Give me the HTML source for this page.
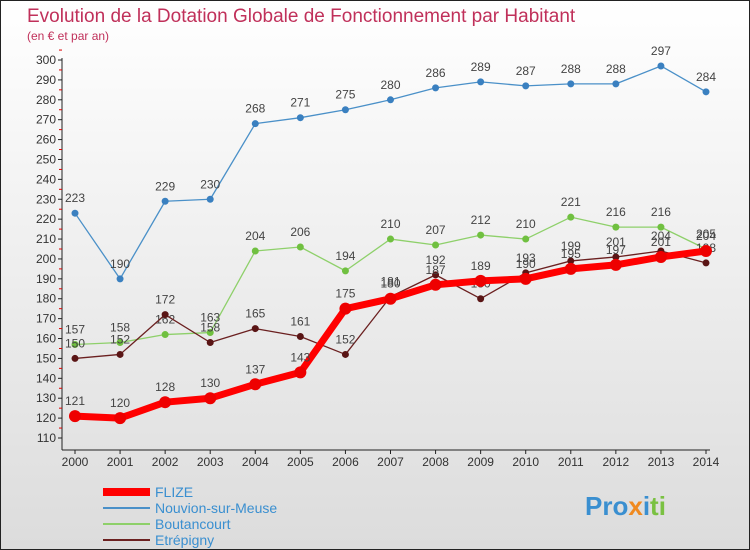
<!DOCTYPE html>
<html><head><meta charset="utf-8"><style>
body{margin:0;width:750px;height:550px;overflow:hidden;font-family:"Liberation Sans",sans-serif}
svg{display:block}
</style></head><body>
<svg id="c" width="750" height="550" xmlns="http://www.w3.org/2000/svg">
<defs><linearGradient id="bg" x1="0" y1="0" x2="0" y2="1"><stop offset="0" stop-color="#ffffff"/><stop offset="1" stop-color="#dcdcdc"/></linearGradient></defs>
<rect x="0.5" y="0.5" width="749" height="549" fill="url(#bg)" stroke="#222"/>
<text x="27" y="22" font-size="19" fill="#c0305a">Evolution de la Dotation Globale de Fonctionnement par Habitant</text>
<text x="27" y="40" font-size="12" fill="#c0305a">(en € et par an)</text>
<g id="axes"></g><g id="series"></g><g id="legend"></g>
<text x="585" y="515" font-size="26" font-weight="bold" fill="#3a8fd0">Pro<tspan fill="#f08a20">x</tspan>i<tspan fill="#7ac142">ti</tspan></text>
</svg>
<script>
const years=[2000,2001,2002,2003,2004,2005,2006,2007,2008,2009,2010,2011,2012,2013,2014];
const flize=[121,120,128,130,137,143,175,180,187,189,190,195,197,201,204];
const nouvion=[223,190,229,230,268,271,275,280,286,289,287,288,288,297,284];
const boutancourt=[157,158,162,163,204,206,194,210,207,212,210,221,216,216,205];
const etrepigny=[150,152,172,158,165,161,152,181,192,180,193,199,201,204,198];
const yTicks=[110,120,130,140,150,160,170,180,190,200,210,220,230,240,250,260,270,280,290,300];
const NS="http://www.w3.org/2000/svg";
const X=i=>75+i*(706-75)/(years.length-1);
const Y=v=>438-(v-110)*(438-60)/190;
function mk(t,a,p){const e=document.createElementNS(NS,t);for(const k in a)e.setAttribute(k,a[k]);p.appendChild(e);return e;}
const ax=document.getElementById('axes');
let l=mk('line',{x1:62,y1:58,x2:62,y2:450,stroke:'#222'},ax);


l=mk('line',{x1:62,y1:450,x2:710,y2:450,stroke:'#222'},ax);


yTicks.forEach(v=>{
  mk('line',{x1:58,y1:Y(v),x2:62,y2:Y(v),stroke:'#222'},ax);
  mk('line',{x1:59,y1:Y(v+5),x2:62,y2:Y(v+5),stroke:'#d00'},ax);
  const t=mk('text',{x:56,y:Y(v)+4,'font-size':12,'text-anchor':'end',fill:'#333'},ax);
  t.textContent=v;
  
  
});
years.forEach((yr,i)=>{
  mk('line',{x1:X(i),y1:450,x2:X(i),y2:454,stroke:'#222'},ax);
  const t=mk('text',{x:X(i),y:466,'font-size':12,'text-anchor':'middle',fill:'#333'},ax);
  t.textContent=yr;
  
  
});
const sg=document.getElementById('series');
const series=[
 {name:'nouvion',data:nouvion,color:'#4a90c8',w:1.3,r:3.5,dot:'#3a80c0'},
 {name:'boutancourt',data:boutancourt,color:'#8ed06a',w:1.3,r:3.5,dot:'#70c040'},
 {name:'etrepigny',data:etrepigny,color:'#6b2020',w:1.3,r:3.5,dot:'#5a1515'},
 {name:'flize',data:flize,color:'#ff0000',w:7,r:6,dot:'#ee0000'}];
series.forEach(s=>{
  const g=mk('g',{},sg);
  
  
  const p=mk('polyline',{points:s.data.map((v,i)=>X(i)+','+Y(v)).join(' '),fill:'none',stroke:s.color,'stroke-width':s.w,'stroke-linejoin':'round'},g);
  
  
  s.data.forEach((v,i)=>{
    const c=mk('circle',{cx:X(i),cy:Y(v),r:s.r,fill:s.dot},g);
    
    
    const t=mk('text',{x:X(i),y:Y(v)-11,'font-size':12,'text-anchor':'middle',fill:'#444'},g);
    t.textContent=v;
    
    
  });
});
const lg=document.getElementById('legend');
const legendNames=['FLIZE','Nouvion-sur-Meuse','Boutancourt','Etrépigny'];
const legendColors=['#ff0000','#4a90c8','#8ed06a','#6b2020'];
const legendW=[8,2,2,2];
legendNames.forEach((n,i)=>{
  const y=492+i*16;
  const g=mk('g',{},lg);
  
  
  mk('line',{x1:103,y1:y,x2:150,y2:y,stroke:legendColors[i],'stroke-width':legendW[i]},g);
  const t=mk('text',{x:155,y:y+5,'font-size':14,fill:'#3a8fd0'},g);
  t.textContent=n;
});
</script>
</body></html>
